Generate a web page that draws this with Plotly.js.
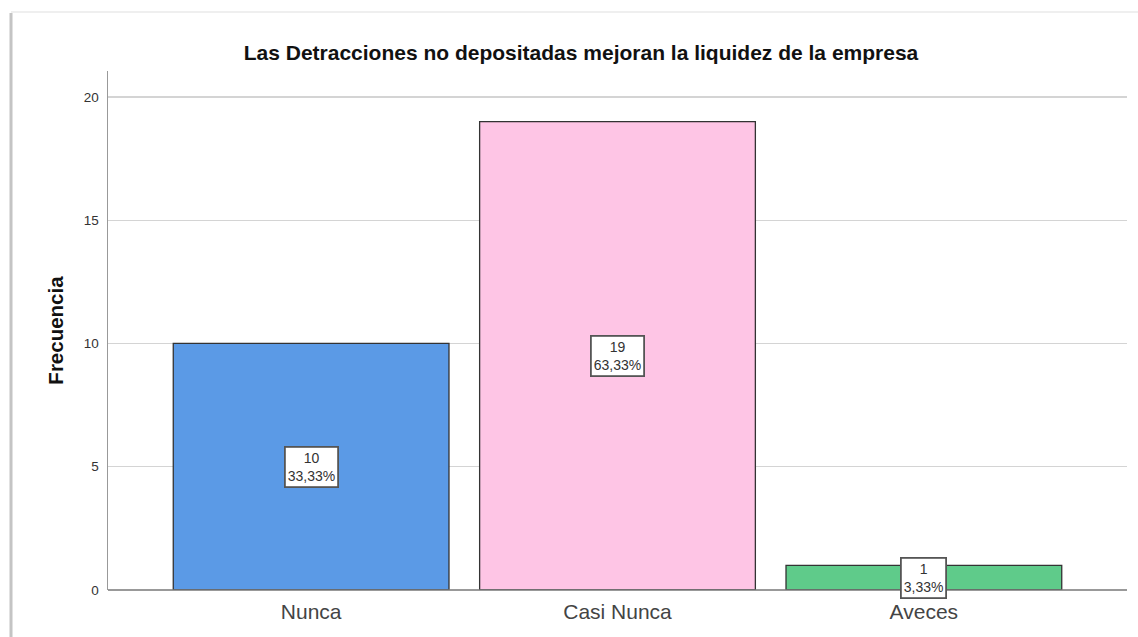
<!DOCTYPE html>
<html>
<head>
<meta charset="utf-8">
<script src="https://cdn.plot.ly/plotly-3.0.1.min.js"></script>
<style>html,body{margin:0;padding:0;background:#fff;}#chart{width:1138px;height:637px;}</style>
</head>
<body>
<div id="chart"></div>
<script>
const categories = ["Nunca", "Casi Nunca", "Aveces"];
const counts = [10, 19, 1];
const percents = ["33,33%", "63,33%", "3,33%"];
const barColors = ["#5b9ae6", "#fec5e5", "#5fcb8a"];
const yTicks = [0, 5, 10, 15, 20];

const W = 1138, H = 637;
const M = {l: 108, r: 11, t: 71, b: 47};
const pw = W - M.l - M.r, ph = H - M.t - M.b;
const px = v => (v - M.l) / pw;
const py = v => (H - M.b - v) / ph;
const FONT = "Liberation Sans, Arial, sans-serif";

const trace = {
  type: "bar",
  x: categories,
  y: counts,
  width: 0.9,
  marker: {color: barColors, line: {color: "#333333", width: 1.3}},
  hoverinfo: "none"
};

const annotations = categories.map((c, i) => ({
  x: c, y: counts[i] / 2, xref: "x", yref: "y",
  text: counts[i] + "<br>" + percents[i],
  showarrow: false,
  font: {family: FONT, size: 14, color: "#333"},
  bgcolor: "#ffffff", bordercolor: "#555", borderwidth: 1.8, borderpad: 2
}));

const layout = {
  width: W, height: H,
  margin: M,
  paper_bgcolor: "#ffffff",
  plot_bgcolor: "#ffffff",
  showlegend: false,
  title: {
    text: "<b>Las Detracciones no depositadas mejoran la liquidez de la empresa</b>",
    font: {family: FONT, size: 21, color: "#111"},
    x: 581 / W, xanchor: "center", xref: "container",
    y: 1 - 53 / H, yanchor: "middle", yref: "container"
  },
  xaxis: {
    type: "category",
    range: [-0.663, 2.663],
    showgrid: false,
    zeroline: false,
    showline: false,
    ticks: "outside", ticklen: 3, tickcolor: "rgba(0,0,0,0)",
    tickfont: {family: FONT, size: 21, color: "#444"}
  },
  yaxis: {
    range: [0, 21.05],
    tickvals: yTicks,
    ticktext: yTicks.map(String),
    showgrid: true,
    gridcolor: "#d4d4d4",
    gridwidth: 1.3,
    zeroline: false,
    showline: true,
    linecolor: "#999",
    linewidth: 1.5,
    ticks: "outside", ticklen: 5, tickcolor: "rgba(0,0,0,0)",
    tickfont: {family: FONT, size: 13.5, color: "#333"},
    title: {
      text: "<b>Frecuencia</b>",
      font: {family: FONT, size: 20.5, color: "#111"},
      standoff: 14
    }
  },
  annotations: annotations,
  shapes: [
    {type: "line", xref: "paper", yref: "paper", x0: 0, x1: 1, y0: 0, y1: 0,
     line: {color: "#777", width: 1.5}, layer: "above"},
    {type: "line", xref: "paper", yref: "paper", x0: px(11), x1: px(11), y0: py(13), y1: py(H),
     line: {color: "#c4c4c4", width: 3}},
    {type: "line", xref: "paper", yref: "paper", x0: px(11), x1: px(W), y0: py(12), y1: py(12),
     line: {color: "#efefef", width: 2}}
  ]
};

Plotly.newPlot("chart", [trace], layout, {displayModeBar: false, staticPlot: true});
</script>
</body>
</html>
